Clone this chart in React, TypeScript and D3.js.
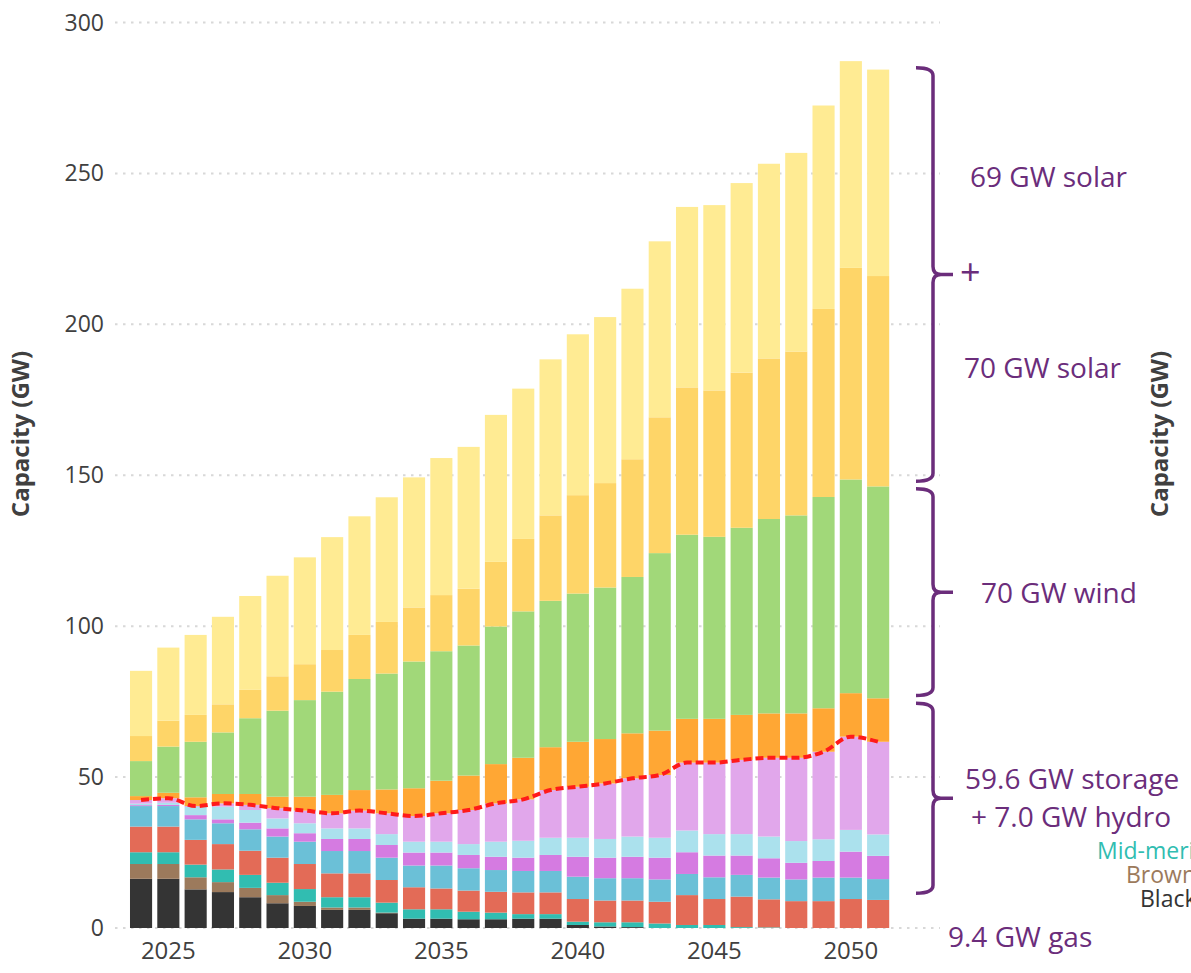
import React from "react";
import * as d3 from "d3";

const years = [2024, 2025, 2026, 2027, 2028, 2029, 2030, 2031, 2032, 2033, 2034, 2035, 2036, 2037, 2038, 2039, 2040, 2041, 2042, 2043, 2044, 2045, 2046, 2047, 2048, 2049, 2050, 2051];

const blackCoal = [16.3, 16.3, 12.8, 11.9, 10.2, 8.2, 7.3, 6.0, 6.0, 4.9, 3.1, 3.1, 2.9, 2.9, 3.1, 3.1, 1.0, 0.5, 0.3, 0, 0, 0, 0, 0, 0, 0, 0, 0];
const brownCoal = [4.9, 4.9, 4.0, 3.3, 3.1, 2.7, 1.4, 0.8, 0.8, 0.2, 0, 0, 0, 0, 0, 0, 0, 0, 0, 0, 0, 0, 0, 0, 0, 0, 0, 0];
const midMeritGas = [3.9, 3.9, 4.2, 4.2, 4.3, 4.1, 4.2, 3.4, 3.4, 3.3, 3.1, 3.1, 2.5, 2.2, 1.5, 1.5, 1.1, 1.4, 1.6, 1.5, 1.0, 1.0, 0.3, 0.2, 0, 0, 0, 0];
const flexibleGas = [8.5, 8.5, 8.2, 8.4, 8.0, 8.3, 8.3, 7.9, 7.9, 7.5, 7.3, 6.9, 7.0, 6.9, 7.2, 7.2, 7.5, 7.2, 7.2, 7.2, 9.9, 8.6, 10.1, 9.3, 8.9, 8.9, 9.6, 9.3];
const hydro = [6.8, 6.8, 6.8, 6.9, 7.1, 7.0, 7.4, 7.4, 7.4, 7.4, 7.2, 7.6, 7.4, 7.2, 7.1, 7.1, 7.4, 7.4, 7.4, 7.4, 7.0, 7.2, 7.2, 7.2, 7.2, 7.8, 7.1, 6.9];
const deepStorage = [0.3, 0.4, 1.4, 1.3, 2.2, 2.7, 2.8, 4.0, 4.0, 4.2, 4.3, 4.3, 4.4, 4.4, 4.4, 5.3, 6.6, 6.8, 7.1, 7.2, 7.2, 7.2, 6.4, 6.4, 5.5, 5.5, 8.6, 7.7];
const mediumStorage = [0.5, 0.7, 2.7, 4.2, 4.2, 3.3, 3.3, 3.5, 3.5, 3.6, 3.6, 3.6, 3.6, 5.0, 5.6, 5.7, 6.3, 6.2, 6.7, 6.6, 7.2, 7.1, 7.1, 7.2, 7.2, 7.2, 7.2, 7.1];
const coordinatedStorage = [1.2, 1.5, 0.3, 1.1, 1.7, 3.4, 4.2, 5.0, 5.9, 6.9, 8.5, 9.4, 11.3, 12.7, 13.7, 15.8, 16.9, 18.4, 19.3, 20.8, 22.5, 23.7, 24.6, 26.1, 27.6, 29.0, 30.9, 30.7];
const distributedStorage = [1.3, 1.8, 2.9, 3.1, 3.6, 3.8, 4.6, 6.1, 6.8, 7.9, 9.2, 10.8, 11.4, 13.0, 13.8, 14.2, 14.9, 14.7, 14.9, 14.7, 14.5, 14.5, 14.9, 14.7, 14.7, 14.4, 14.4, 14.4];
const wind = [11.6, 15.3, 18.4, 20.4, 25.1, 28.5, 32.0, 34.2, 36.8, 38.4, 42.0, 42.9, 43.1, 45.6, 48.5, 48.5, 49.1, 50.2, 51.8, 58.8, 61.0, 60.3, 62.0, 64.4, 65.6, 70.0, 70.8, 70.2];
const utilitySolar = [8.3, 8.6, 8.9, 9.3, 9.4, 11.4, 11.9, 13.8, 14.6, 17.1, 17.9, 18.6, 18.8, 21.4, 24.0, 28.3, 32.6, 34.6, 39.0, 45.0, 48.8, 48.5, 51.4, 53.2, 54.3, 62.3, 70.1, 69.7];
const rooftopSolar = [21.6, 24.2, 26.5, 29.0, 31.1, 33.3, 35.4, 37.4, 39.3, 41.3, 43.1, 45.4, 47.0, 48.7, 49.8, 51.7, 53.3, 55.0, 56.5, 58.3, 59.8, 61.4, 62.8, 64.5, 65.8, 67.4, 68.5, 68.4];

const seriesKeys = ["blackCoal", "brownCoal", "midMeritGas", "flexibleGas", "hydro", "deepStorage", "mediumStorage", "coordinatedStorage", "distributedStorage", "wind", "utilitySolar", "rooftopSolar"];
const seriesValues = [blackCoal, brownCoal, midMeritGas, flexibleGas, hydro, deepStorage, mediumStorage, coordinatedStorage, distributedStorage, wind, utilitySolar, rooftopSolar];
const seriesColors = ["#343434", "#9c7a5c", "#31bdb1", "#e36b57", "#6bc0d7", "#d57be1", "#abe1ed", "#e1a7eb", "#ffa734", "#a1d879", "#fed568", "#ffeb93"];

const yTicks = [0, 50, 100, 150, 200, 250, 300];
const xTickYears = [2025, 2030, 2035, 2040, 2045, 2050];

// brackets: [low, high] in GW
const brackets = [
  { low: 148, high: 285 },
  { low: 77, high: 145.5 },
  { low: 11.5, high: 74.5 },
];

const W = 1191;
const H = 973;
const FONT = "'Open Sans', 'Noto Sans', sans-serif";
const PURPLE = "#6b2d7b";

export default function App() {
  const rows = years.map((yr, i) => {
    const r: any = { year: yr };
    seriesKeys.forEach((k, j) => (r[k] = seriesValues[j][i]));
    return r;
  });
  const stacked = d3.stack().keys(seriesKeys)(rows);

  const x = d3
    .scaleBand<number>()
    .domain(years)
    .range([127.4, 891.8])
    .paddingInner(0.19)
    .paddingOuter(0.095);
  const y = d3.scaleLinear().domain([0, 300]).range([928, 22.5]);

  const cx = (yr: number) => (x(yr) as number) + x.bandwidth() / 2;

  const lavTop = stacked[7].map((d, i) => ({ yr: years[i], v: d[1] }));
  const dashLine = d3
    .line<{ yr: number; v: number }>()
    .x((d) => cx(d.yr))
    .y((d) => y(d.v))
    .curve(d3.curveMonotoneX)(lavTop);

  const bx0 = 916;
  const bxv = 933;
  const bxt = 953;
  const rr = 8;
  const bracePath = (lo: number, hi: number) => {
    const y0 = y(hi);
    const y1 = y(lo);
    const ym = (y0 + y1) / 2;
    return `M${bx0},${y0} Q${bxv},${y0} ${bxv},${y0 + rr} L${bxv},${ym - rr} Q${bxv},${ym} ${bxv + rr},${ym} L${bxt},${ym} M${bxv + rr},${ym} Q${bxv},${ym} ${bxv},${ym + rr} L${bxv},${y1 - rr} Q${bxv},${y1} ${bx0},${y1}`;
  };

  return (
    <svg
      width={W}
      height={H}
      style={{ position: "absolute", left: 0, top: 0, background: "#fff" }}
      fontFamily={FONT}
    >
      {/* grid */}
      {yTicks.map((t) => (
        <line
          key={"g" + t}
          x1={115}
          x2={940}
          y1={y(t)}
          y2={y(t)}
          stroke="#d8d8d8"
          strokeWidth={2}
          strokeDasharray="2.5 5.5"
        />
      ))}
      {/* bars */}
      {stacked.map((s, si) => (
        <g key={s.key} fill={seriesColors[si]}>
          {s.map((d, i) => {
            const h = y(d[0]) - y(d[1]);
            if (h <= 0) return null;
            return (
              <rect
                key={i}
                x={x(years[i])}
                y={y(d[1])}
                width={x.bandwidth()}
                height={h}
              />
            );
          })}
        </g>
      ))}
      {/* red dashed line */}
      <path
        d={dashLine || ""}
        fill="none"
        stroke="#ff1a1a"
        strokeWidth={4}
        strokeDasharray="8 4"
      />
      {/* y tick labels */}
      {yTicks.map((t) => (
        <text
          key={"yt" + t}
          x={104}
          y={y(t) + 8}
          textAnchor="end"
          fontSize={23}
          fill="#404040"
        >
          {t}
        </text>
      ))}
      {/* x tick labels */}
      {xTickYears.map((yr) => (
        <text
          key={"xt" + yr}
          x={cx(yr)}
          y={959}
          textAnchor="middle"
          fontSize={24}
          fill="#404040"
        >
          {yr}
        </text>
      ))}
      {/* axis titles */}
      <text
        transform="translate(29,434) rotate(-90)"
        textAnchor="middle"
        fontSize={24}
        fontWeight="bold"
        fill="#404040"
      >
        Capacity (GW)
      </text>
      <text
        transform="translate(1168,434) rotate(-90)"
        textAnchor="middle"
        fontSize={24}
        fontWeight="bold"
        fill="#404040"
      >
        Capacity (GW)
      </text>
      {/* brackets */}
      {brackets.map((b, i) => (
        <path
          key={"b" + i}
          d={bracePath(b.low, b.high)}
          fill="none"
          stroke={PURPLE}
          strokeWidth={3.5}
        />
      ))}
      {/* annotations */}
      <g fill={PURPLE} fontSize={28}>
        <text x={970} y={187}>69 GW solar</text>
        <text x={960} y={285} fontSize={36}>+</text>
        <text x={964} y={378}>70 GW solar</text>
        <text x={981} y={603}>70 GW wind</text>
        <text x={965} y={789}>59.6 GW storage</text>
        <text x={971} y={827}>+ 7.0 GW hydro</text>
        <text x={948} y={947}>9.4 GW gas</text>
      </g>
      <g fontSize={23}>
        <text x={1097} y={859} fill="#31bdb1">Mid-merit gas</text>
        <text x={1126} y={883} fill="#9c7a5c">Brown coal</text>
        <text x={1140} y={907} fill="#343434">Black coal</text>
      </g>
    </svg>
  );
}
